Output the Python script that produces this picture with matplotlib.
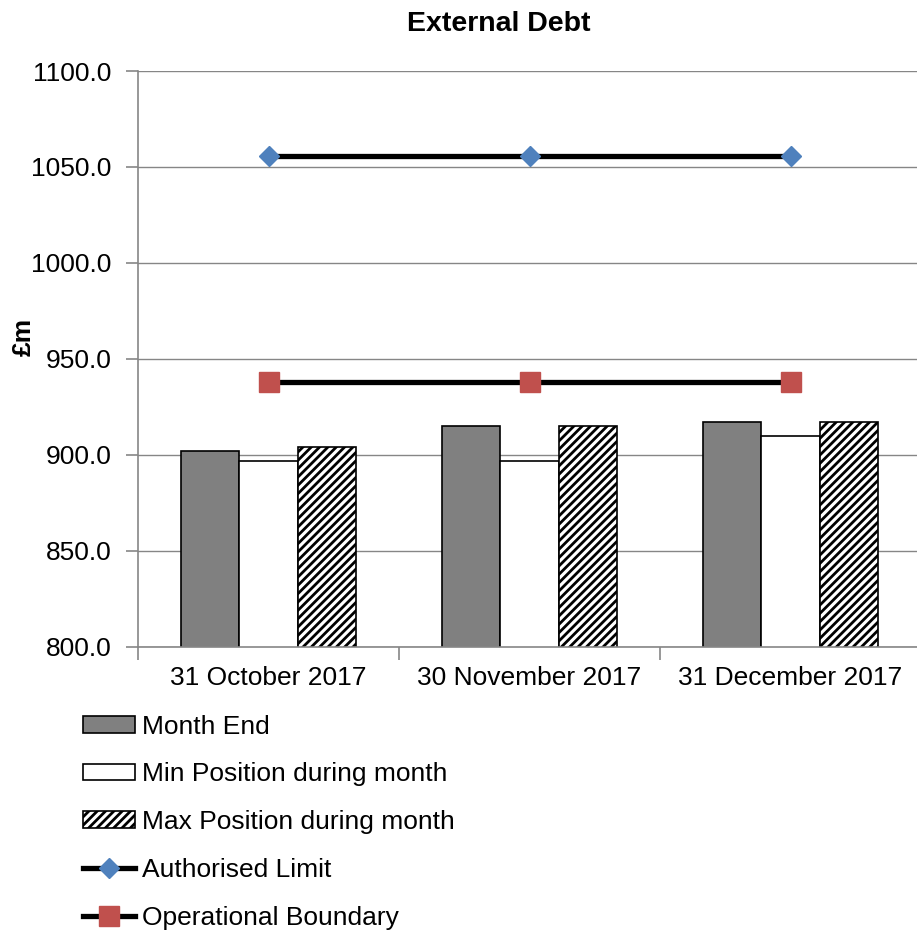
import numpy as np
import matplotlib
matplotlib.use("Agg")
import matplotlib.pyplot as plt
from matplotlib.ticker import FixedLocator

plt.rcParams['font.family'] = ['Liberation Sans', 'DejaVu Sans']
plt.rcParams['hatch.linewidth'] = 2.0

categories = ['31 October 2017', '30 November 2017', '31 December 2017']
month_end = [902.0, 915.3, 917.0]
min_pos = [897.0, 897.0, 910.0]
max_pos = [904.0, 915.3, 917.0]
auth_limit = [1055.6, 1055.6, 1055.6]
op_boundary = [938.0, 938.0, 938.0]

fig = plt.figure(figsize=(9.17, 9.35), dpi=100)
ax = fig.add_axes([138 / 917, 1 - 647 / 935, 783 / 917, 576 / 935])

x = np.arange(len(categories))
w = 0.2235
grid_c = '#868686'

ax.set_ylim(800, 1100)
ax.set_xlim(-0.5, 2.5)
ax.set_yticks(np.arange(800, 1101, 50))
ax.set_yticklabels([f'{v:.1f}' for v in np.arange(800, 1101, 50)])
ax.yaxis.grid(True, color=grid_c, linewidth=1.0)
ax.set_axisbelow(True)

b1 = ax.bar(x - w, month_end, w, color='#808080', edgecolor='black', linewidth=1.2,
            label='Month End', zorder=2)
b2 = ax.bar(x, min_pos, w, color='white', edgecolor='black', linewidth=1.2,
            label='Min Position during month', zorder=2)
b3 = ax.bar(x + w, max_pos, w, color='white', edgecolor='black', linewidth=1.2,
            hatch='////', label='Max Position during month', zorder=2)

l1, = ax.plot(x, auth_limit, color='black', linewidth=3.8, marker='D', markersize=10.5,
              markerfacecolor='#4F81BD', markeredgecolor='#4F81BD', label='Authorised Limit', zorder=3)
l2, = ax.plot(x, op_boundary, color='black', linewidth=3.8, marker='s', markersize=14,
              markerfacecolor='#C0504D', markeredgecolor='#C0504D', label='Operational Boundary', zorder=3)

for s in ['top', 'right']:
    ax.spines[s].set_visible(False)
for s in ['left', 'bottom']:
    ax.spines[s].set_color(grid_c)
    ax.spines[s].set_linewidth(1.2)

ax.set_xticks(x)
ax.set_xticklabels(categories)
ax.xaxis.set_minor_locator(FixedLocator([-0.5, 0.5, 1.5, 2.5]))
ax.tick_params(axis='x', which='major', length=0, pad=14, labelsize=19)
ax.tick_params(axis='x', which='minor', length=9, color=grid_c, width=1.2)
ax.tick_params(axis='y', length=9, color=grid_c, width=1.2, pad=10, labelsize=19)

fig.text(499 / 917, 1 - 24 / 935, 'External Debt', ha='center', va='center',
         fontsize=20.5, fontweight='bold')
fig.text(24 / 917, 1 - 337 / 935, '£m', ha='center', va='center', rotation=90,
         fontsize=19, fontweight='bold')

fig.legend([b1, b2, b3, l1, l2],
           ['Month End', 'Min Position during month', 'Max Position during month',
            'Authorised Limit', 'Operational Boundary'],
           loc='upper left', bbox_to_anchor=(72 / 917, 1 - 704 / 935), frameon=False,
           fontsize=19, handlelength=2.0, handleheight=0.6, handletextpad=0.25,
           labelspacing=0.9, numpoints=1, borderaxespad=0)

fig.savefig('out.png', dpi=100)
